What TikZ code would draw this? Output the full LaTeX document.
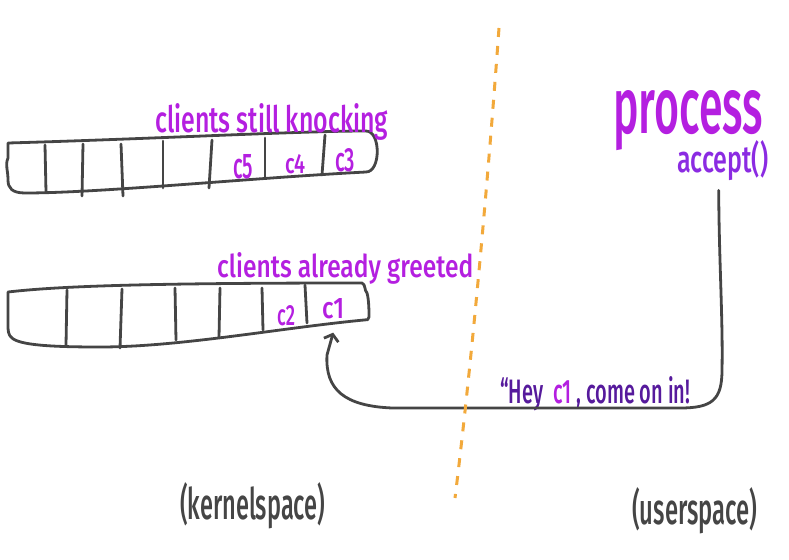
\documentclass[tikz,border=0pt]{standalone}
\usepackage{fontspec}
\setmainfont{Fira Sans}[UprightFont={* Medium}]
\usetikzlibrary{arrows.meta}
\definecolor{purp}{HTML}{B41FE0}
\definecolor{violettwo}{HTML}{8B2BE2}
\definecolor{dpurp}{HTML}{561A9C}
\definecolor{ink}{HTML}{454545}
\definecolor{orng}{HTML}{F2A93B}
\newcommand{\fitbox}[3]{\resizebox{#1pt}{#2pt}{#3}}
\begin{document}
\begin{tikzpicture}[x=1pt,y=-1pt,
  lab/.style={inner sep=0pt, anchor=base west},
  outline/.style={draw=ink, line width=2.8pt, line join=round, line cap=round},
  divider/.style={draw=ink, line width=2.8pt, line cap=round},
  connector/.style={draw=ink, line width=2.8pt, line cap=round, line join=round, -{Straight Barb[length=6pt,width=15pt]}},
  border/.style={draw=orng, line width=3pt, dash pattern=on 9pt off 9pt}]
\useasboundingbox (0,0) rectangle (789,559);

% top queue
\draw[outline] (8,143) .. controls (150,139) and (300,131) .. (366,131) .. controls (381,131) and (381,172) .. (366,172) .. controls (250,178) and (100,193) .. (25,193) .. controls (12,193) and (8,188) .. (8,180) .. controls (8,170) and (5,165) .. (8,158) -- cycle;
\draw[divider] (45,145) -- (46,192);
\draw[divider] (83,144) -- (82,196);
\draw[divider] (121,144) -- (123,196);
\draw[divider] (163,141) -- (163,188);
\draw[divider] (212,140) -- (209,188);
\draw[divider] (265,138) -- (265,178);
\draw[divider] (325,135) -- (322,175);

% bottom queue
\draw[outline] (8,292) .. controls (60,286) and (150,283) .. (362,283) .. controls (366,285) and (364,290) .. (367,293) .. controls (369,300) and (369,312) .. (369,317) .. controls (369,320) and (367,320) .. (364,320) .. controls (280,328) and (180,347) .. (100,347) .. controls (50,347) and (20,345) .. (12,338) .. controls (8,335) and (8,330) .. (8,325) -- cycle;
\draw[divider] (67,290) -- (66,345);
\draw[divider] (122,289) -- (120,348);
\draw[divider] (175,288) -- (176,340);
\draw[divider] (220,288) -- (219,337);
\draw[divider] (262,288) -- (263,330);
\draw[divider] (305,285) -- (307,323);

% labels
\node[lab, text=purp] (knock) at (155,133) {\fitbox{233}{29}{clients still knocking}};
\node[lab, text=purp] (greet) at (217,277) {\fitbox{256}{25}{clients already greeted}};
\node[lab, text=purp] (c5) at (233,178) {\fitbox{20}{24}{c5}};
\node[lab, text=purp] (c4) at (285,173) {\fitbox{20}{19}{c4}};
\node[lab, text=purp] (c3) at (335,171) {\fitbox{20}{23}{c3}};
\node[lab, text=purp] (c2) at (277,325) {\fitbox{18}{20}{c2}};
\node[lab, text=purp] (c1) at (322,318) {\fitbox{22}{20}{c1}};
\node[lab, text=purp] (proc) at (613,133) {\fitbox{150}{43}{\raisebox{0pt}[\height][0pt]{process}}};
\node[lab, text=violettwo] (accept) at (677,172) {\fitbox{91}{32}{accept()}};
\node[lab, text=dpurp] (hey) at (500,403) {\fitbox{190}{27}{“Hey~~\textcolor{purp}{c1}~, come on in!}};
\node[lab, text=ink] (kern) at (180,519) {\fitbox{145}{37}{(kernelspace)}};
\node[lab, text=ink] (user) at (632,524) {\fitbox{125}{37}{(userspace)}};

% connector
\draw[connector] ([xshift=-4pt,yshift=-10pt]accept.south) .. controls (719,260) and (723,320) .. (722,370) .. controls (722,400) and (712,408) .. (680,408) -- (392,408) .. controls (345,406) and (325,390) .. (327,355) -- ([yshift=-14pt]c1.south);

% boundary
\draw[border] (499,28) .. controls (488,180) and (472,360) .. (455,498);
\end{tikzpicture}
\end{document}
